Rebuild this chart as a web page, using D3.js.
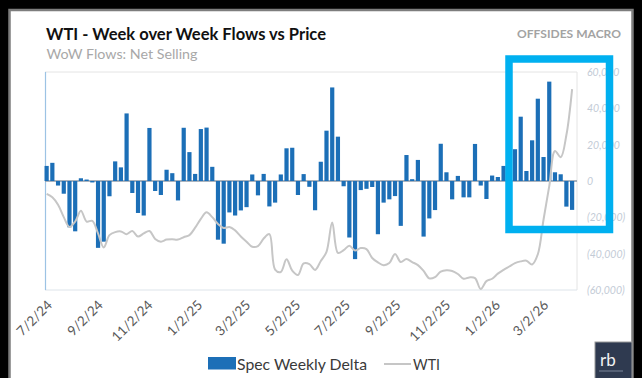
<!DOCTYPE html>
<html>
<head>
<meta charset="utf-8">
<script src="https://cdn.jsdelivr.net/npm/d3@7"></script>
<style>
  html, body { margin: 0; padding: 0; background: #000; }
  svg { display: block; }
  text { font-family: Lato, "Open Sans", "Liberation Sans", sans-serif; }
</style>
</head>
<body>
<svg id="chart" width="642" height="378"></svg>
<script>
// Weekly series, one point per Tuesday starting from this date
const firstWeek = "2024-07-02";

// Net speculative position change, contracts per week
const specWeeklyDelta = [
  8300, 10000, -2500, -7000, -25500, -27700, 1500, 800, -800, -36800,
  -33400, -8400, 10800, 7500, 37200, -6600, -17600, -19000, 29200, -5500,
  -7700, 6200, 4300, -10700, 29300, 15900, 3900, 28600, 29400, 7800,
  -32300, -34500, -17300, -19000, -16200, -14400, 3600, -7900, 3900, -14000,
  -11900, 3600, 18000, 18300, -7700, 3800, -3200, -16100, 10600, 27700,
  51500, 24400, -2900, -31100, -43000, -5000, -4300, -3300, -29300, -11900,
  -10100, -8300, -24700, 14300, 1000, 11600, -30600, -20600, -16000, 20500,
  4800, -10100, 2800, -9000, -9000, 20400, -2500, -9900, 3000, 2200,
  8300, 10000, 17500, 35400, 5500, 22400, 45300, 13200, 54700, 4800,
  3700, -14100, -15900
];

// WTI front-month price, USD/bbl, same weeks
const wtiPrice = [
  82.2, 81.2, 79.0, 75.4, 72.5, 74.1, 77.3, 74.1, 74.3, 70.6,
  66.5, 70.1, 71.0, 71.2, 70.4, 71.3, 69.7, 70.6, 71.3, 69.0,
  68.2, 68.8, 68.9, 68.8, 69.5, 70.1, 72.3, 74.9, 76.8, 75.4,
  73.4, 72.2, 72.5, 71.5, 69.7, 68.2, 66.7, 66.9, 69.1, 70.4,
  60.0, 59.3, 63.0, 59.7, 58.4, 61.8, 61.6, 59.9, 62.5, 65.2,
  73.8, 64.9, 65.7, 67.0, 65.6, 66.3, 66.0, 63.4, 62.1, 61.3,
  61.9, 64.6, 62.2, 63.1, 62.2, 61.3, 59.6, 57.4, 57.8, 59.4,
  59.8, 59.6, 58.7, 57.3, 57.7, 57.5, 54.3, 56.6, 57.3, 58.8,
  59.9, 60.9, 61.9, 62.4, 62.6, 61.5, 64.5, 74.7, 84.5, 94.8,
  93.0, 99.5, 113.0
];

const dateTicks = ["7/2/24", "9/2/24", "11/2/24", "1/2/25", "3/2/25", "5/2/25",
                   "7/2/25", "9/2/25", "11/2/25", "1/2/26", "3/2/26"];
const flowTicks = [60000, 40000, 20000, 0, -20000, -40000, -60000];

const svg = d3.select("#chart");
const W = 642, H = 378;
const plot = { left: 45, right: 577, top: 72, bottom: 290 };

const parseISO = d3.timeParse("%Y-%m-%d");
const parseTick = d3.timeParse("%m/%d/%y");
const start = parseISO(firstWeek);
const weeks = specWeeklyDelta.map((_, i) => d3.timeDay.offset(start, 7 * i));

const x = d3.scaleTime()
  .domain([d3.timeDay.offset(start, -2), d3.timeDay.offset(weeks[weeks.length - 1], 6)])
  .range([plot.left, plot.right]);
const yFlow = d3.scaleLinear().domain([-60000, 60000]).range([plot.bottom, plot.top]);
const yWti = d3.scaleLinear().domain([54, 118]).range([plot.bottom, plot.top]);

// Background frame
svg.append("rect").attr("width", W).attr("height", H).attr("fill", "#000");
svg.append("rect")
  .attr("x", 9.5).attr("y", 10).attr("width", 623).attr("height", 380)
  .attr("fill", "#fff").attr("stroke", "#7d7d7d").attr("stroke-width", 2.5);

// Titles
svg.append("text").attr("x", 46).attr("y", 39.5)
  .attr("font-size", 17).attr("font-weight", 700).attr("fill", "#111")
  .attr("textLength", 280).attr("lengthAdjust", "spacingAndGlyphs")
  .text("WTI - Week over Week Flows vs Price");
svg.append("text").attr("x", 46.5).attr("y", 58.5)
  .attr("font-size", 14).attr("fill", "#a8a8a8")
  .attr("textLength", 151).attr("lengthAdjust", "spacingAndGlyphs")
  .text("WoW Flows: Net Selling");
svg.append("text").attr("x", 517).attr("y", 37.5)
  .attr("font-size", 11).attr("font-weight", 700).attr("fill", "#a3a3a3")
  .attr("textLength", 104).attr("lengthAdjust", "spacingAndGlyphs")
  .text("OFFSIDES MACRO");

// Plot frame
const frame = svg.append("g");
frame.append("line").attr("x1", plot.left).attr("x2", plot.right)
  .attr("y1", plot.top).attr("y2", plot.top).attr("stroke", "#e4e4e4");
frame.append("line").attr("x1", plot.right).attr("x2", plot.right)
  .attr("y1", plot.top).attr("y2", plot.bottom).attr("stroke", "#e4e4e4");
frame.append("line").attr("x1", plot.left).attr("x2", plot.right)
  .attr("y1", plot.bottom).attr("y2", plot.bottom).attr("stroke", "#dde4ea");
frame.append("line").attr("x1", plot.left + 0.5).attr("x2", plot.left + 0.5)
  .attr("y1", plot.top).attr("y2", plot.bottom).attr("stroke", "#9cc3e4").attr("stroke-width", 1.2);

// Zero line
svg.append("line")
  .attr("x1", plot.left).attr("x2", plot.right)
  .attr("y1", yFlow(0)).attr("y2", yFlow(0))
  .attr("stroke", "#8d9aa8").attr("stroke-width", 1.5);

// Weekly flow bars
const barW = 4.2;
svg.append("g").selectAll("rect")
  .data(specWeeklyDelta)
  .join("rect")
  .attr("x", (d, i) => x(weeks[i]) - barW / 2)
  .attr("y", d => yFlow(Math.max(0, d)))
  .attr("width", barW)
  .attr("height", d => Math.abs(yFlow(d) - yFlow(0)))
  .attr("fill", "#1c6fb7");

// WTI price line
const priceLine = d3.line()
  .x((d, i) => x(weeks[i]))
  .y(d => yWti(d))
  .curve(d3.curveCatmullRom.alpha(0.5));
svg.append("path")
  .datum(wtiPrice)
  .attr("d", priceLine)
  .attr("fill", "none")
  .attr("stroke", "#c6c6c6")
  .attr("stroke-width", 2);

// Right axis (flows)
const fmtFlow = v => v < 0 ? "(" + d3.format(",")(-v) + ")" : d3.format(",")(v);
const rightAxis = svg.append("g")
  .attr("transform", `translate(${plot.right},0)`)
  .call(d3.axisRight(yFlow).tickValues(flowTicks).tickFormat(fmtFlow).tickSize(0).tickPadding(10));
rightAxis.select(".domain").remove();
rightAxis.selectAll("text")
  .attr("font-size", 10.5).attr("font-style", "italic").attr("fill", "#c3cbd6")
  .attr("font-family", "Lato, 'Open Sans', sans-serif");

// Bottom axis (dates)
const bottomAxis = svg.append("g")
  .attr("transform", `translate(0,${plot.bottom})`)
  .call(d3.axisBottom(x).tickValues(dateTicks.map(parseTick))
        .tickFormat((d, i) => dateTicks[i]).tickSize(0).tickPadding(0));
bottomAxis.select(".domain").remove();
bottomAxis.selectAll("text")
  .attr("font-size", 13.5).attr("fill", "#595959")
  .attr("font-family", "Lato, 'Open Sans', sans-serif")
  .attr("text-anchor", "end")
  .attr("dy", null).attr("y", 0)
  .attr("transform", "translate(6,16) rotate(-45)");

// Highlight box over the latest weeks
svg.append("rect")
  .attr("x", 509).attr("y", 59).attr("width", 100.5).attr("height", 170.5)
  .attr("fill", "none").attr("stroke", "#00b0f0").attr("stroke-width", 7.5);

// Legend
const legend = svg.append("g");
legend.append("rect").attr("x", 208).attr("y", 357).attr("width", 28).attr("height", 12.5).attr("fill", "#1c6fb7");
legend.append("text").attr("x", 237).attr("y", 369.5).attr("font-size", 16).attr("fill", "#3a3a3a")
  .attr("textLength", 130).attr("lengthAdjust", "spacingAndGlyphs").text("Spec Weekly Delta");
legend.append("line").attr("x1", 384).attr("x2", 411).attr("y1", 364).attr("y2", 364)
  .attr("stroke", "#c6c6c6").attr("stroke-width", 2);
legend.append("text").attr("x", 413).attr("y", 369.5).attr("font-size", 16).attr("fill", "#3a3a3a")
  .attr("textLength", 27).attr("lengthAdjust", "spacingAndGlyphs").text("WTI");

// Brand mark
const logo = svg.append("g");
logo.append("rect").attr("x", 595).attr("y", 342).attr("width", 37).attr("height", 40)
  .attr("fill", "#2f3a50").attr("stroke", "#9a9a9a").attr("stroke-width", 1);
logo.append("text").attr("x", 600).attr("y", 366).attr("font-size", 17)
  .attr("font-family", "'Liberation Serif', 'DejaVu Serif', serif").attr("fill", "#f2f2f2").text("rb");
logo.append("rect").attr("x", 599).attr("y", 370.5).attr("width", 24).attr("height", 1)
  .attr("fill", "#7c8699");
</script>
</body>
</html>
